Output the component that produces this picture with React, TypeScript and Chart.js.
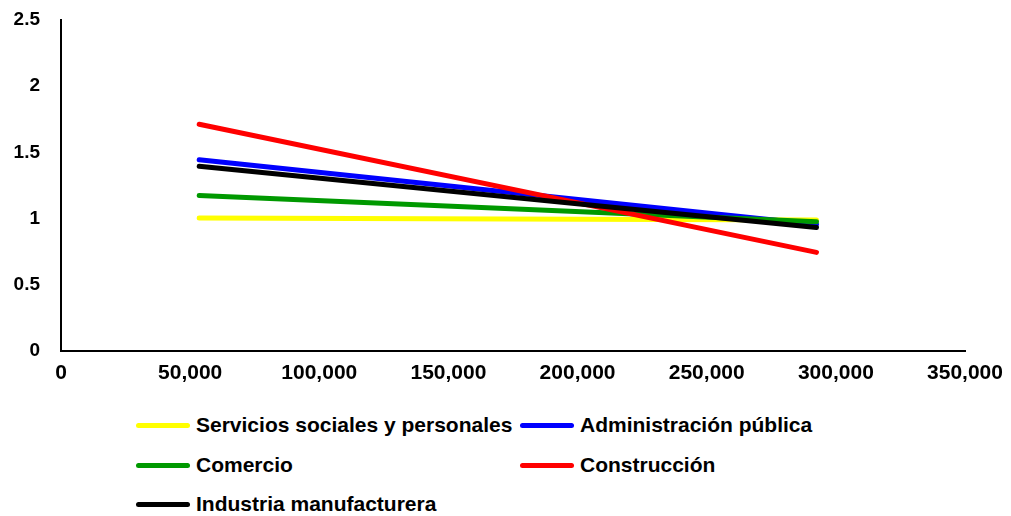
import React, { useEffect, useRef } from "react";
import { Chart, registerables } from "chart.js";

Chart.register(...registerables);

const seriesNames = [
  "Servicios sociales y personales",
  "Administración pública",
  "Comercio",
  "Construcción",
  "Industria manufacturera",
];
const seriesColors = ["#ffff00", "#0000ff", "#009900", "#ff0000", "#000000"];
const xValues = [53500, 292500];
const serviciosValues = [1.004, 0.99];
const administracionValues = [1.444, 0.955];
const comercioValues = [1.175, 0.976];
const construccionValues = [1.713, 0.745];
const industriaValues = [1.396, 0.933];
const allValues = [serviciosValues, administracionValues, comercioValues, construccionValues, industriaValues];

const FONT = "'Liberation Sans', Arial, sans-serif";

export default function App() {
  const ref = useRef<HTMLCanvasElement>(null);
  useEffect(() => {
    document.body.style.margin = "0";
    const ctx = ref.current!;
    const chart = new Chart(ctx, {
      type: "scatter",
      data: {
        datasets: allValues.map((vals, i) => ({
          label: seriesNames[i],
          data: vals.map((v, j) => ({ x: xValues[j], y: v })),
          showLine: true,
          borderColor: seriesColors[i],
          backgroundColor: seriesColors[i],
          borderWidth: 5,
          borderCapStyle: "round" as const,
          pointRadius: 0,
          order: 5 - i,
        })),
      },
      options: {
        animation: false,
        responsive: false,
        maintainAspectRatio: false,
        layout: { padding: { top: 20, right: 46, left: 0, bottom: 0 }, autoPadding: false },
        plugins: { legend: { display: false }, tooltip: { enabled: false } },
        scales: {
          x: {
            type: "linear",
            min: 0,
            max: 350000,
            ticks: {
              stepSize: 50000,
              color: "#000",
              font: { family: FONT, weight: "bold", size: 21 },
              padding: 10,
              maxRotation: 0,
              callback: (v: any) => Number(v).toLocaleString("en-US"),
            },
            grid: { display: false, drawTicks: false },
            border: { display: true, color: "#000", width: 2 },
            afterFit: (s: any) => { s.height = 44; s.paddingLeft = 0; s.paddingRight = 0; },
          },
          y: {
            min: 0,
            max: 2.5,
            ticks: {
              stepSize: 0.5,
              color: "#000",
              font: { family: FONT, weight: "bold", size: 19 },
              padding: 21,
              callback: (v: any) => String(Number(v)),
            },
            grid: { display: false, drawTicks: false },
            border: { display: true, color: "#000", width: 2 },
            afterFit: (s: any) => { s.width = 61; s.paddingTop = 0; s.paddingBottom = 0; },
          },
        },
      },
    });
    return () => chart.destroy();
  }, []);

  const legendPos = [
    { x: 136, y: 425 },
    { x: 520, y: 425 },
    { x: 136, y: 465 },
    { x: 520, y: 465 },
    { x: 136, y: 504 },
  ];

  return (
    <div style={{ position: "absolute", left: 0, top: 0, width: 1011, height: 516, background: "#fff" }}>
      <canvas ref={ref} width={1011} height={395} style={{ position: "absolute", left: 0, top: 0 }} />
      {seriesNames.map((name, i) => (
        <div
          key={name}
          style={{
            position: "absolute",
            left: legendPos[i].x,
            top: legendPos[i].y - 12,
            height: 24,
            display: "flex",
            alignItems: "center",
            whiteSpace: "nowrap",
            fontFamily: FONT,
            fontWeight: "bold",
            fontSize: 21,
            color: "#000",
          }}
        >
          <span style={{ display: "inline-block", width: 54, height: 5, borderRadius: 3, background: seriesColors[i], marginRight: 6 }} />
          <span>{name}</span>
        </div>
      ))}
    </div>
  );
}
